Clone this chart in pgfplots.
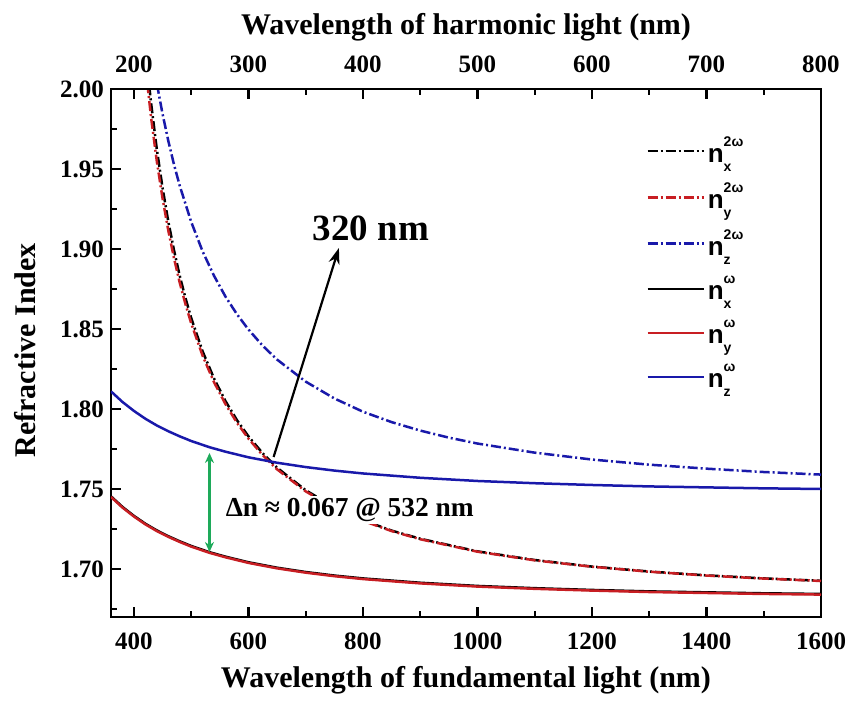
\documentclass[border=0pt]{standalone}
\usepackage{pgfplots}
\pgfplotsset{compat=1.18}
\usepackage{fontspec}
\setmainfont{Liberation Serif}
\newfontfamily\lsans{Liberation Sans}
\usetikzlibrary{arrows.meta}
\definecolor{myred}{RGB}{200,30,35}
\definecolor{myblue}{RGB}{25,25,170}
\definecolor{mygreen}{RGB}{30,170,90}
\newcommand{\leg}[2]{{\lsans\bfseries\fontsize{13}{13}\selectfont n}\rlap{\raisebox{8pt}{\lsans\bfseries\fontsize{7}{7}\selectfont #1}}\raisebox{-4.5pt}{\lsans\bfseries\fontsize{7}{7}\selectfont #2}}
\tikzset{dd/.style={dash pattern=on 5pt off 1.5pt on 1pt off 1.5pt}}
\begin{document}
\begin{tikzpicture}
\begin{axis}[name=main, scale only axis, width=355pt, height=264pt,
  xmin=360, xmax=1600, ymin=1.67, ymax=2.00,
  xtick={400,600,800,1000,1200,1400,1600},
  minor xtick={500,700,900,1100,1300,1500},
  ytick={1.70,1.75,1.80,1.85,1.90,1.95,2.00},
  minor ytick={1.675,1.725,1.775,1.825,1.875,1.925,1.975},
  xtick pos=bottom, ytick pos=left, tick align=inside,
  major tick length=5pt, minor tick length=3pt,
  axis line style={line width=1.2pt}, every tick/.style={line width=1.1pt, black},
  tick label style={font=\bfseries\fontsize{12.5}{13}\selectfont},
  xticklabel style={yshift=-4.5pt},
  /pgf/number format/assume math mode=true,
  /pgf/number format/1000 sep={},
  yticklabel style={/pgf/number format/.cd, fixed, fixed zerofill, precision=2},
  xlabel={Wavelength of fundamental light (nm)},
  ylabel={Refractive Index},
  label style={font=\bfseries\fontsize{15}{16}\selectfont},
  xlabel style={at={(axis description cs:0.5,0)}, anchor=center, yshift=-31.5pt},
  ylabel style={at={(axis description cs:-0.1211,0.505)}, anchor=center},
  legend image code/.code={\draw[#1] (0pt,0pt) -- (28pt,0pt);},
  legend style={at={(0.745,0.924)}, anchor=north west, draw=none, fill=none,
    row sep=5.8pt, nodes={inner sep=1.5pt}},
  legend cell align=left,
  every axis plot/.append style={line width=1.25pt},
]
\addplot[black, dd] coordinates {
(420,2.0246)(430,1.9912)(440,1.9624)(450,1.9383)(460,1.9173)(470,1.8993)(480,1.8833)(490,1.8694)(500,1.8569)(520,1.8360)(540,1.8190)(560,1.8049)(580,1.7930)(600,1.7829)(625,1.7723)(650,1.7633)(700,1.7492)(750,1.7386)(800,1.7305)(850,1.7240)(900,1.7189)(1000,1.7110)(1100,1.7056)(1200,1.7015)(1300,1.6984)(1400,1.6960)(1500,1.6941)(1600,1.6926)};
\addlegendentry{\leg{2ω}{x}}
\addplot[myred, dd] coordinates {
(420,2.0148)(430,1.9822)(440,1.9549)(450,1.9317)(460,1.9117)(470,1.8943)(480,1.8790)(490,1.8656)(500,1.8536)(520,1.8333)(540,1.8167)(560,1.8030)(580,1.7914)(600,1.7815)(625,1.7711)(650,1.7623)(700,1.7485)(750,1.7381)(800,1.7301)(850,1.7237)(900,1.7186)(1000,1.7108)(1100,1.7054)(1200,1.7014)(1300,1.6983)(1400,1.6959)(1500,1.6940)(1600,1.6925)};
\addlegendentry{\leg{2ω}{y}}
\addplot[myblue, dd] coordinates {
(430,2.0254)(440,2.0035)(450,1.9845)(460,1.9677)(470,1.9528)(480,1.9396)(500,1.9170)(520,1.8985)(540,1.8832)(560,1.8702)(580,1.8592)(600,1.8497)(625,1.8395)(650,1.8309)(700,1.8171)(750,1.8066)(800,1.7983)(850,1.7918)(900,1.7865)(950,1.7821)(1000,1.7784)(1100,1.7727)(1200,1.7684)(1300,1.7652)(1400,1.7627)(1500,1.7606)(1600,1.7590)};
\addlegendentry{\leg{2ω}{z}}
\addplot[black] coordinates {
(360,1.7454)(380,1.7388)(400,1.7332)(420,1.7283)(440,1.7241)(460,1.7205)(480,1.7173)(500,1.7144)(532,1.7105)(560,1.7077)(600,1.7042)(650,1.7008)(700,1.6981)(750,1.6959)(800,1.6941)(900,1.6914)(1000,1.6894)(1100,1.6880)(1200,1.6869)(1300,1.6860)(1400,1.6854)(1500,1.6848)(1600,1.6844)};
\addlegendentry{\leg{ω}{x}}
\addplot[myred] coordinates {
(360,1.7450)(380,1.7384)(400,1.7328)(420,1.7279)(440,1.7237)(460,1.7201)(480,1.7169)(500,1.7140)(532,1.7101)(560,1.7073)(600,1.7038)(650,1.7004)(700,1.6977)(750,1.6955)(800,1.6937)(900,1.6910)(1000,1.6890)(1100,1.6876)(1200,1.6865)(1300,1.6856)(1400,1.6850)(1500,1.6844)(1600,1.6840)};
\addlegendentry{\leg{ω}{y}}
\addplot[myblue] coordinates {
(360,1.8110)(380,1.8044)(400,1.7988)(420,1.7939)(440,1.7897)(460,1.7861)(480,1.7829)(500,1.7800)(532,1.7761)(560,1.7733)(600,1.7698)(650,1.7664)(700,1.7637)(750,1.7615)(800,1.7597)(900,1.7570)(1000,1.7550)(1100,1.7536)(1200,1.7525)(1300,1.7516)(1400,1.7510)(1500,1.7504)(1600,1.7500)};
\addlegendentry{\leg{ω}{z}}
\node[fill=white, inner sep=1pt, font=\bfseries\fontsize{13.7}{14}\selectfont] at (axis cs:777,1.7369) {Δn ≈ 0.067 @ 532 nm};
\draw[mygreen, line width=1.2pt, {Stealth[length=5pt,width=4.5pt]}-{Stealth[length=5pt,width=4.5pt]}] (axis cs:532,1.7725) -- (axis cs:532,1.7106);
\draw[black, line width=1.1pt, -{Stealth[length=8pt,width=5.5pt]}] (axis cs:644,1.770) -- (axis cs:758,1.9006);
\node[font=\bfseries\fontsize{18.5}{19}\selectfont] at (axis cs:814,1.913) {320 nm};
\end{axis}
\begin{axis}[scale only axis, width=355pt, height=264pt,
  xmin=180, xmax=800, ymin=1.67, ymax=2.00,
  axis x line*=top, axis y line=none,
  xtick={200,300,400,500,600,700,800},
  minor xtick={250,350,450,550,650,750},
  tick align=inside, major tick length=5pt, minor tick length=3pt,
  axis line style={line width=1.2pt}, every tick/.style={line width=1.1pt, black},
  tick label style={font=\bfseries\fontsize{12.5}{13}\selectfont},
  xticklabel style={yshift=4.5pt},
  /pgf/number format/assume math mode=true,
  xlabel={Wavelength of harmonic light (nm)},
  label style={font=\bfseries\fontsize{15}{16}\selectfont},
  xlabel style={at={(axis description cs:0.5,1)}, anchor=center, yshift=31pt},
]
\end{axis}
\pgfresetboundingbox
\path ([xshift=-55.5pt,yshift=-42.5pt]main.south west) rectangle ([xshift=15.5pt,yshift=44.5pt]main.north east);
\end{tikzpicture}
\end{document}
